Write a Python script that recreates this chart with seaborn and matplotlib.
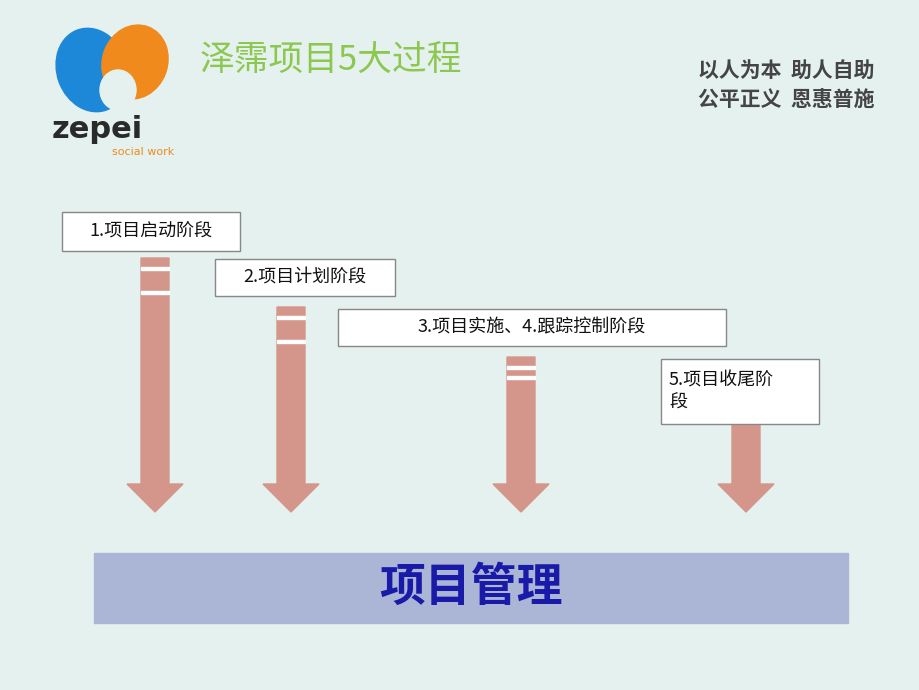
import matplotlib
matplotlib.use("Agg")
import matplotlib.pyplot as plt
from matplotlib.patches import Polygon, Rectangle, Ellipse
import seaborn as sns

sns.set_theme(style="white")
plt.rcParams["font.family"] = "Noto Sans CJK SC"

stages = ["1.项目启动阶段", "2.项目计划阶段", "3.项目实施、4.跟踪控制阶段", "5.项目收尾阶\n段"]
arrow_x = [155, 291, 521, 746]
arrow_top = [258, 307, 357, 415]
arrow_stripes = [2, 2, 1, 0]
box_x = [62, 215, 338, 661]
box_y = [212, 259, 309, 359]
box_w = [178, 180, 388, 158]
box_h = [39, 37, 37, 65]
title = "泽霈项目5大过程"
center_label = "项目管理"
slogan = ["以人为本  助人自助", "公平正义  恩惠普施"]

fig = plt.figure(figsize=(9.2, 6.9), dpi=100)
ax = fig.add_axes([0, 0, 1, 1])
ax.set_xlim(0, 920); ax.set_ylim(690, 0); ax.axis("off")
fig.patch.set_facecolor("#e4f1ef")
ax.add_patch(Rectangle((0, 0), 920, 690, color="#e4f1ef", zorder=0))

# logo
ax.add_patch(Ellipse((92, 70), 70, 85, angle=-20, color="#1e88d8", zorder=1))
ax.add_patch(Ellipse((135, 62), 65, 75, angle=20, color="#f08a1c", zorder=1))
ax.add_patch(Ellipse((118, 90), 36, 40, color="#e4f1ef", zorder=2))
ax.text(52, 130, "zepei", fontsize=22, fontweight="bold", color="#2a2a2a", va="center", family="DejaVu Sans")
ax.text(112, 152, "social work", fontsize=8, color="#f08a1c", va="center", family="DejaVu Sans")

ax.text(200, 60, title, fontsize=25, color="#8cc850", va="center")
for i, s in enumerate(slogan):
    ax.text(875, 70 + i * 30, s, fontsize=15, color="#444444", style="italic", fontweight="bold", ha="right", va="center")

col = "#d4968a"
for x, top, ns in zip(arrow_x, arrow_top, arrow_stripes):
    hw, head_top, tip = 14, 484, 512
    ax.add_patch(Polygon([(x-hw, top), (x+hw, top), (x+hw, head_top), (x+28, head_top),
                          (x, tip), (x-28, head_top), (x-hw, head_top)], color=col, zorder=3))
    if ns == 2:
        for y in (top + 9, top + 33):
            ax.add_patch(Rectangle((x-hw, y), 2*hw, 3, color="white", zorder=4))
    elif ns == 1:
        for y in (top + 9, top + 19):
            ax.add_patch(Rectangle((x-hw, y), 2*hw, 3, color="white", zorder=4))

for s, x, y, w, h in zip(stages, box_x, box_y, box_w, box_h):
    ax.add_patch(Rectangle((x, y), w, h, facecolor="white", edgecolor="#888888", lw=1, zorder=5))
    if "\n" in s:
        ax.text(x + 8, y + h/2, s, fontsize=13, va="center", ha="left", color="#111111", zorder=6, linespacing=1.3)
    else:
        ax.text(x + w/2, y + h/2, s, fontsize=13, va="center", ha="center", color="#111111", zorder=6)

ax.add_patch(Rectangle((94, 553), 754, 70, color="#abb5d6", zorder=3))
ax.text(471, 588, center_label, fontsize=33, fontweight="bold", color="#1a1aa8", ha="center", va="center", zorder=4)

fig.savefig("out.png", dpi=100)
